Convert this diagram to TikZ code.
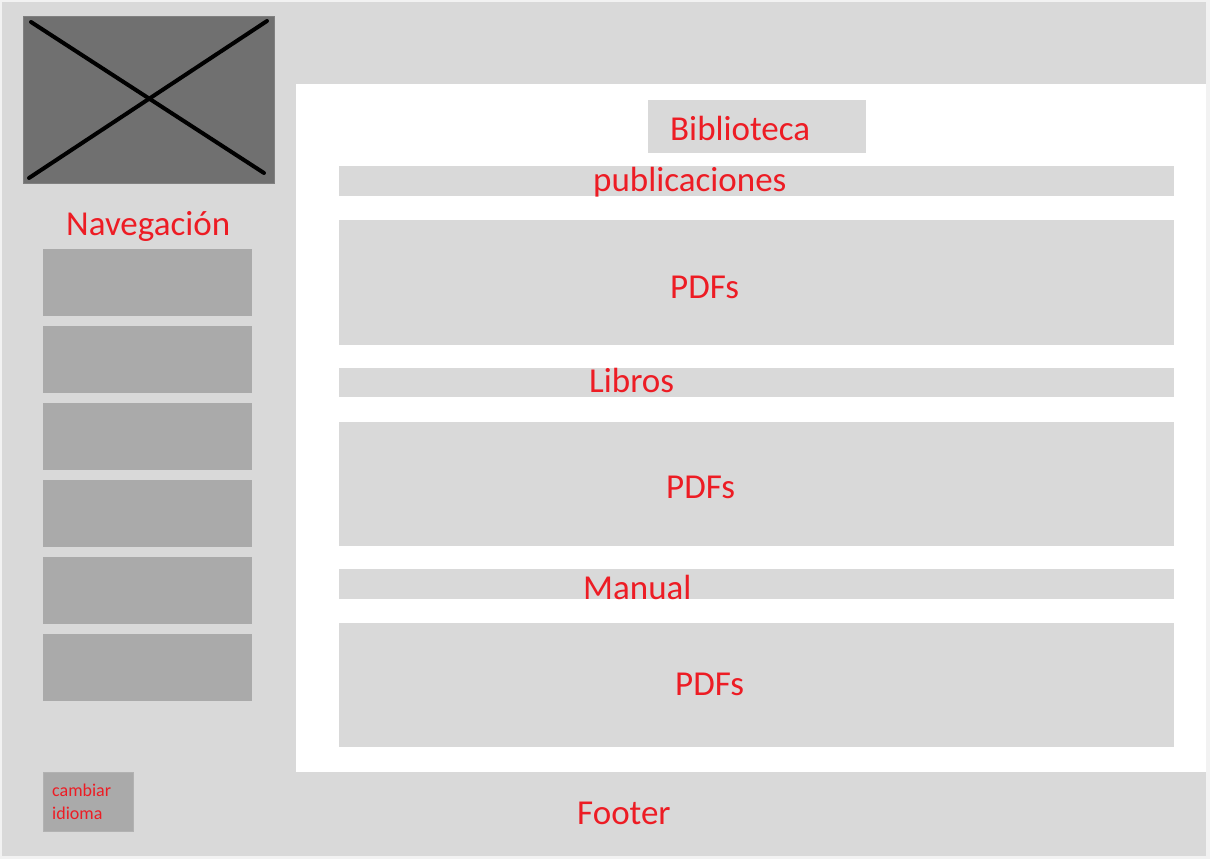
\documentclass[tikz,border=0pt]{standalone}
\usepackage{fontspec}
\setmainfont{Carlito}
\definecolor{pagebg}{HTML}{F2F2F2}
\definecolor{panel}{HTML}{D9D9D9}
\definecolor{navgray}{HTML}{AAAAAA}
\definecolor{imggray}{HTML}{707070}
\definecolor{labelred}{HTML}{ED1C24}
\begin{document}
\begin{tikzpicture}[x=1pt,y=-1pt,
  lbl/.style={anchor=base west,inner sep=0pt,text=labelred,font=\fontsize{35}{40}\selectfont},
  small/.style={anchor=base west,inner sep=0pt,text=labelred,font=\fontsize{18}{23}\selectfont}]
\useasboundingbox (0,0) rectangle (1210,859);
\fill [pagebg] (0,0) rectangle (1210,859);
\fill [panel] (2,2) rectangle (1206,856);
\fill [white] (296,84) rectangle (1206,772);
% logo placeholder
\draw [fill=imggray,draw=gray] (23,16) rectangle (274,183);
\draw [line width=4pt,line cap=round] (31,22) -- (264,173);
\draw [line width=4pt,line cap=round] (267,21) -- (29,178);
\node [lbl] (nav) at (66,235) {Navegación};
\foreach \i in {0,...,5}
  \fill [navgray] (43,249+77*\i) rectangle (252,316+77*\i);
\draw [fill=navgray,draw=navgray!90] (43,772) rectangle (133,831);
\node [small] (lang) at (52,796) {cambiar};
\node [small] (langb) at (52,819) {idioma};
% content
\fill [panel] (648,100) rectangle (866,153);
\node [lbl] (title) at (670,140) {Biblioteca};
\fill [panel] (339,166) rectangle (1174,196);
\node [lbl] (pub) at (593,191) {publicaciones};
\fill [panel] (339,220) rectangle (1174,345);
\node [lbl] (pdfa) at (670,298) {PDFs};
\fill [panel] (339,368) rectangle (1174,397);
\node [lbl] (libros) at (589,392) {Libros};
\fill [panel] (339,422) rectangle (1174,546);
\node [lbl] (pdfb) at (666,498) {PDFs};
\fill [panel] (339,569) rectangle (1174,599);
\node [lbl] (manual) at (583,599) {Manual};
\fill [panel] (339,623) rectangle (1174,747);
\node [lbl] (pdfc) at (675,695) {PDFs};
\node [lbl] (footer) at (577,824) {Footer};
\end{tikzpicture}
\end{document}
